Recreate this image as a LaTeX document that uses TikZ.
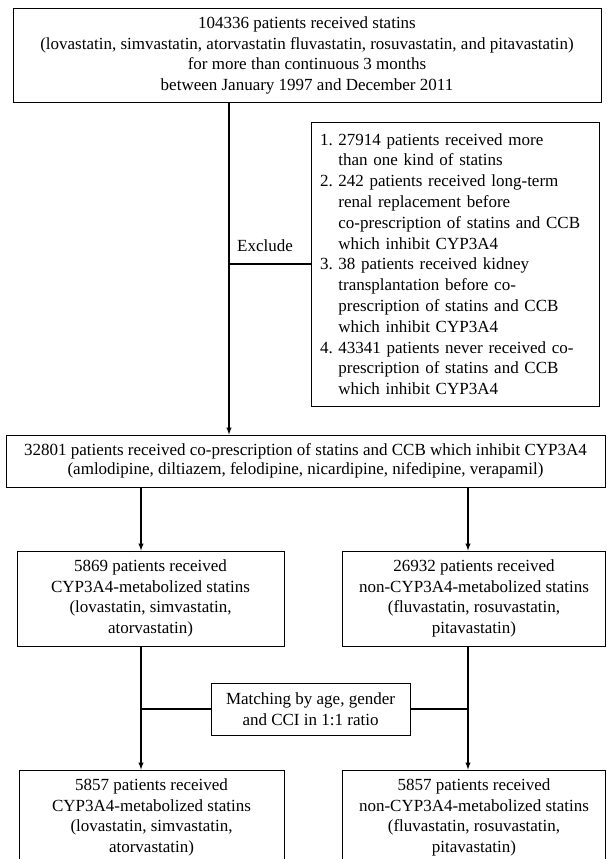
\documentclass[tikz,border=0pt]{standalone}
\usepackage{fontspec}
\setmainfont{Liberation Serif}
\usepackage{tikz}

\tikzset{
    box/.style={draw, line width=1pt, align=center, inner sep=0pt,
        font=\fontsize{17}{20.7}\selectfont},
    link/.style={line width=1.4pt},
    arrow/.style={line width=1.4pt, ->, >=latex}
}

\begin{document}
\begin{tikzpicture}[x=1pt, y=-1pt]
    % page frame (bottom boxes run off the edge)
    \useasboundingbox (0,0) rectangle (607,859);
    \clip (0,0) rectangle (607,859);

    % 1. Source population
    \node[box, minimum width=588pt, minimum height=93pt] (top) at (307,55.5)
        {104336 patients received statins\\
         (lovastatin, simvastatin, atorvastatin fluvastatin, rosuvastatin, and pitavastatin)\\
         for more than continuous 3 months\\
         between January 1997 and December 2011};

    % 2. Exclusion criteria
    \node[box, minimum width=288pt, minimum height=284pt, text width=270pt, align=left,
          font=\fontsize{17}{20.8}\selectfont] (excl) at (455,264)
        {1.~27914 patients received more\\
         \hphantom{1.~}than one kind of statins\\
         2.~242 patients received long-term\\
         \hphantom{2.~}renal replacement before\\
         \hphantom{2.~}co-prescription of statins and CCB\\
         \hphantom{2.~}which inhibit CYP3A4\\
         3.~38 patients received kidney\\
         \hphantom{3.~}transplantation before co-\\
         \hphantom{3.~}prescription of statins and CCB\\
         \hphantom{3.~}which inhibit CYP3A4\\
         4.~43341 patients never received co-\\
         \hphantom{4.~}prescription of statins and CCB\\
         \hphantom{4.~}which inhibit CYP3A4};
    \node[font=\fontsize{17}{20.7}\selectfont] (exlabel) at (265,246) {Exclude};

    % 3. Co-prescription cohort
    \node[box, minimum width=599pt, minimum height=52pt,
          font=\fontsize{17}{19.5}\selectfont] (mid) at (305.5,461)
        {32801 patients received co-prescription of statins and CCB which inhibit CYP3A4\\
         (amlodipine, diltiazem, felodipine, nicardipine, nifedipine, verapamil)};

    % 4. Split by statin type
    \node[box, minimum width=267pt, minimum height=95pt] (cyp) at (150.5,598.5)
        {5869 patients received\\ CYP3A4-metabolized statins\\
         (lovastatin, simvastatin,\\ atorvastatin)};
    \node[box, minimum width=263pt, minimum height=95pt] (noncyp) at (474,598.5)
        {26932 patients received\\ non-CYP3A4-metabolized statins\\
         (fluvastatin, rosuvastatin,\\ pitavastatin)};

    % 5. Matching
    \node[box, minimum width=199pt, minimum height=52pt] (match) at (310.5,709)
        {Matching by age, gender\\ and CCI in 1:1 ratio};

    % 6. Matched cohorts
    \node[box, minimum width=265pt, minimum height=95pt] (cypm) at (151.5,817.5)
        {5857 patients received\\ CYP3A4-metabolized statins\\
         (lovastatin, simvastatin,\\ atorvastatin)};
    \node[box, minimum width=263pt, minimum height=95pt] (noncypm) at (474,817.5)
        {5857 patients received\\ non-CYP3A4-metabolized statins\\
         (fluvastatin, rosuvastatin,\\ pitavastatin)};

    % --- Connectors ---
    \coordinate (ex) at (229,264);
    \coordinate (lm) at (141,709);
    \coordinate (rm) at (468,709);
    \draw[arrow] (top.south -| ex) -- (mid.north -| ex);
    \draw[link] (ex) -- (excl.west);
    \draw[arrow] (mid.south -| lm) -- (cyp.north -| lm);
    \draw[arrow] (mid.south -| rm) -- (noncyp.north -| rm);
    \draw[arrow] (cyp.south -| lm) -- (cypm.north -| lm);
    \draw[arrow] (noncyp.south -| rm) -- (noncypm.north -| rm);
    \draw[link] (lm) -- (match.west);
    \draw[link] (rm) -- (match.east);
\end{tikzpicture}
\end{document}
